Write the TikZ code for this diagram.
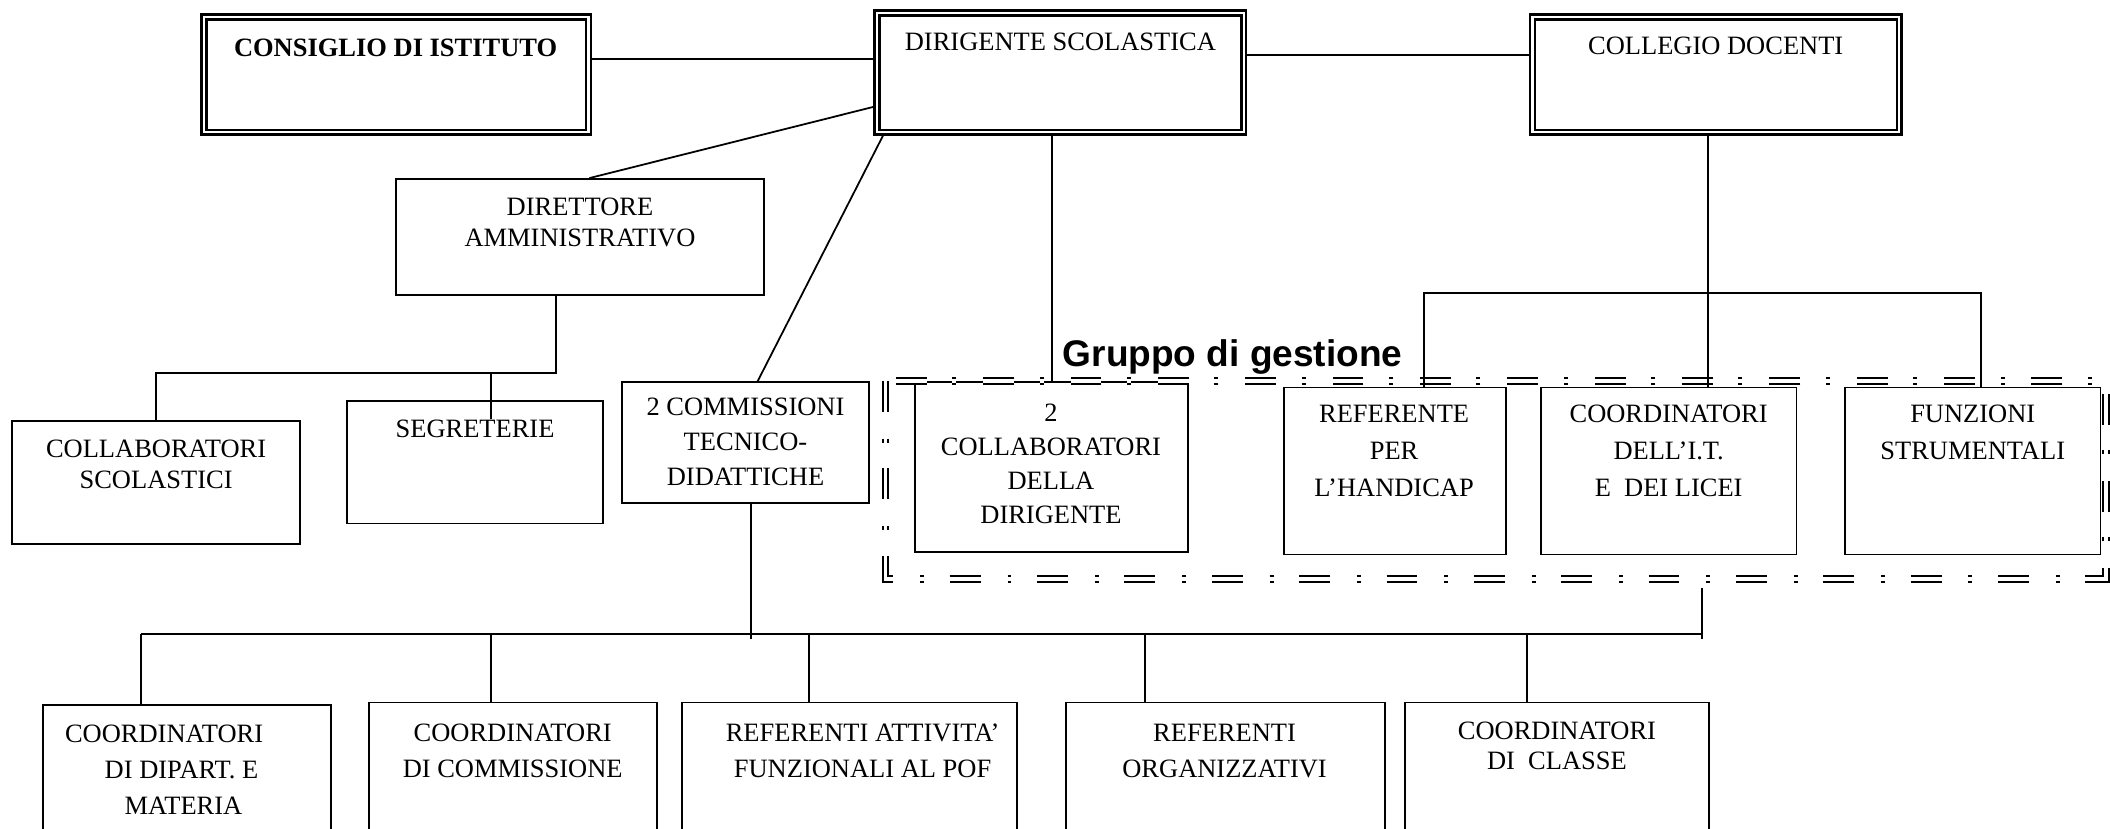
\documentclass[tikz,border=0pt]{standalone}
\usepackage{fontspec}
\setmainfont{Liberation Serif}
\newfontfamily\gsans{Liberation Sans}
\usetikzlibrary{fit}
\tikzset{
  box/.style={draw, line width=0.8pt, inner sep=0pt, fit={#1}},
  dbox/.style={draw, double, line width=1.1pt, double distance=1.1pt, inner sep=0pt, fit={#1}},
  txt/.style={font=\fontsize{12}{#1}\selectfont, align=center, inner sep=0pt, anchor=north},
  txt/.default=14pt,
  conn/.style={line width=0.8pt},
  gframe/.style={double, line width=0.9pt, double distance=1.7pt,
    dash pattern=on 14pt off 12.2pt on 1.8pt off 11.6pt}
}
\begin{document}
\begin{tikzpicture}[x=0.61pt, y=-0.61pt]
\useasboundingbox (0,0) rectangle (1568,616);
\clip (0,0) rectangle (1568,616);

% top row (double borders)
\node[dbox={(151.7,12.7)(437.3,98.3)}] (cons) {};
\node[dbox={(651.7,9.7)(924.3,98.3)}] (dir) {};
\node[dbox={(1138.7,12.7)(1411.3,98.3)}] (coldoc) {};
\node[txt, font=\bfseries\fontsize{12}{14}\selectfont] (consT) at (294,28.5) {CONSIGLIO DI ISTITUTO};
\node[txt] (dirT) at (788,24.5) {DIRIGENTE SCOLASTICA};
\node[txt] (coldocT) at (1275,27.5) {COLLEGIO DOCENTI};

% second level
\node[box={(294,133)(568,219)}] (dirett) {};
\node[txt=14pt] (direttT) at (431,146.5) {DIRETTORE\\AMMINISTRATIVO};

\node[box={(9,313)(223,404)}] (collsc) {};
\node[txt=14pt] (collscT) at (116,326.5) {COLLABORATORI\\SCOLASTICI};
\node[box={(258,298)(448,389)}] (segr) {};
\node[txt] (segrT) at (353,311.5) {SEGRETERIE};
\node[box={(462,284)(646,374)}] (comm) {};
\node[txt=15.9pt] (commT) at (554,295.5) {2 COMMISSIONI\\TECNICO-\\DIDATTICHE};

% gruppo di gestione
\node[box={(680,284)(883,410)}] (coll2) {};
\node[txt=15.5pt] (coll2T) at (781,299.5) {2\\COLLABORATORI\\DELLA\\DIRIGENTE};
\node[box={(954,288)(1119,412)}] (ref) {};
\node[txt=16.8pt] (refT) at (1036,300.5) {REFERENTE\\PER\\L’HANDICAP};
\node[box={(1145,288)(1335,412)}] (cit) {};
\node[txt=16.8pt] (citT) at (1240,300.5) {COORDINATORI\\DELL’I.T.\\E~~DEI LICEI};
\node[box={(1371,288)(1561,412)}] (funz) {};
\node[txt=17pt] (funzT) at (1466,300.5) {FUNZIONI\\STRUMENTALI};
\node[inner sep=0pt, anchor=base, font=\gsans\bfseries\fontsize{16.8}{18}\selectfont] (grp) at (916,272.5) {Gruppo di gestione};
\draw[gframe] (658,283) rectangle (1565,430);

% bottom row
\node[box={(32,524)(246,640)}] (cdip) {};
\node[txt=16.2pt, anchor=north west, align=left] (cdipT) at (48,538.5) {COORDINATORI\\\hspace*{18pt}DI DIPART. E\\\hspace*{27pt}MATERIA};
\node[box={(274,522)(488,640)}] (ccom) {};
\node[txt=16.5pt] (ccomT) at (381,537.5) {COORDINATORI\\DI COMMISSIONE};
\node[box={(507,522)(756,640)}] (ratt) {};
\node[txt=16.5pt] (rattT) at (641,537.5) {REFERENTI ATTIVITA’\\FUNZIONALI AL POF};
\node[box={(792,522)(1029,640)}] (rorg) {};
\node[txt=16.5pt] (rorgT) at (910,537.5) {REFERENTI\\ORGANIZZATIVI};
\node[box={(1044,522)(1270,640)}] (ccla) {};
\node[txt=13.4pt] (cclaT) at (1157,536.5) {COORDINATORI\\DI~~CLASSE};

% connectors top
\draw[conn] (cons.east |- 0,44) -- (dir.west |- 0,44);
\draw[conn] (dir.east |- 0,41) -- (coldoc.west |- 0,41);
\draw[conn] (dir.west |- 0,79) -- (dirett.north -| 438,0);
\draw[conn] (dir.south west -| 657,0) -- (comm.north -| 563,0);
\draw[conn] (dir.south -| 782,0) -- (coll2.north -| 782,0);
\draw[conn] (coldoc.south -| 1269,0) -- (cit.north -| 1269,0);
\coordinate (cbL) at (1058,218);
\coordinate (cbR) at (1472,218);
\draw[conn] (ref.north -| cbL) -- (cbL) -- (cbR) -- (funz.north -| cbR);

% direttore branch
\coordinate (dbus) at (413,277);
\coordinate (dbusL) at (116,277);
\coordinate (segin) at (365,311);
\draw[conn] (dirett.south -| dbus) -- (dbus) -- (dbusL) -- (collsc.north -| dbusL);
\draw[conn] (dbus -| segin) -- (segin);

% bottom bus
\coordinate (bus) at (558,475);
\coordinate (bL) at (105,471);
\coordinate (bR) at (1265,471);
\coordinate (citlow) at (1265,437);
\coordinate (bRlow) at (1265,475);
\draw[conn] (comm.south -| bus) -- (bus);
\draw[conn] (bL) -- (bR);
\draw[conn] (citlow) -- (bRlow);
\draw[conn] (bL) -- (cdip.north -| bL);
\draw[conn] (bL -| 365,0) -- (ccom.north -| 365,0);
\draw[conn] (bL -| 601,0) -- (ratt.north -| 601,0);
\draw[conn] (bL -| 851,0) -- (rorg.north -| 851,0);
\draw[conn] (bL -| 1135,0) -- (ccla.north -| 1135,0);
\end{tikzpicture}
\end{document}
